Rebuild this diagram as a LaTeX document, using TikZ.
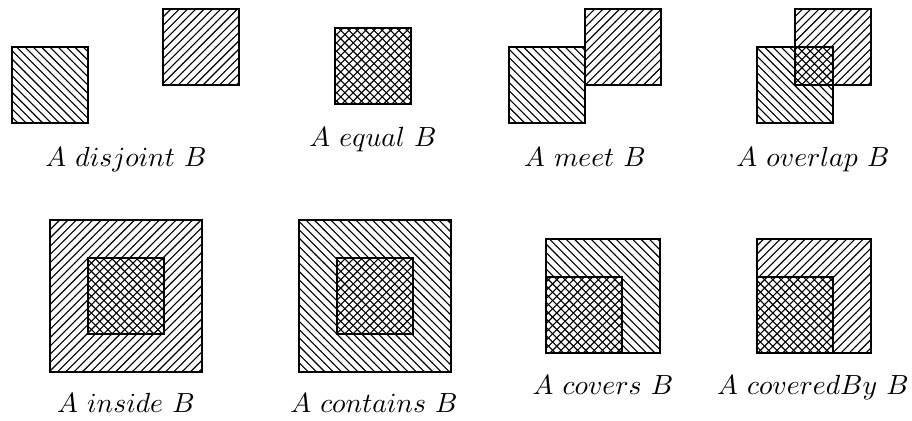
\documentclass[tikz,border=0pt]{standalone}
\usetikzlibrary{patterns}
\begin{document}
\begin{tikzpicture}[
	x=0.361pt, y=-0.361pt,
	regA/.style={ draw, pattern=north west lines },
	regB/.style={ draw, pattern=north east lines },
	rel/.style={ anchor=base, inner sep=0pt }
]
\useasboundingbox (0,0) rectangle (912,421);

% A disjoint B
\draw[regA] (12,47) rectangle (88,123);
\draw[regB] (163,9) rectangle (239,85);
\node (disjoint) [rel] at (126,166) {$A\ disjoint\ B$};

% A equal B
\draw[regA] (335,28) rectangle (411,104);
\draw[regB] (335,28) rectangle (411,104);
\node (equal) [rel] at (373,147) {$A\ equal\ B$};

% A meet B
\draw[regA] (509,47) rectangle (585,123);
\draw[regB] (585,9) rectangle (661,85);
\node (meet) [rel] at (585,166) {$A\ meet\ B$};

% A overlap B
\draw[regA] (757,47) rectangle (833,123);
\draw[regB] (795,9) rectangle (871,85);
\node (overlap) [rel] at (813,166) {$A\ overlap\ B$};

% A inside B
\draw[regB] (50,220) rectangle (202,372);
\draw[regA] (88,258) rectangle (164,334);
\node (inside) [rel] at (126,413) {$A\ inside\ B$};

% A contains B
\draw[regA] (299,220) rectangle (451,372);
\draw[regB] (337,258) rectangle (413,334);
\node (contains) [rel] at (374,413) {$A\ contains\ B$};

% A covers B
\draw[regA] (546,239) rectangle (660,353);
\draw[regB] (546,277) rectangle (622,353);
\node (covers) [rel] at (603,395) {$A\ covers\ B$};

% A coveredBy B
\draw[regB] (757,239) rectangle (871,353);
\draw[regA] (757,277) rectangle (833,353);
\node (coveredby) [rel] at (813,395) {$A\ coveredBy\ B$};

\end{tikzpicture}
\end{document}
